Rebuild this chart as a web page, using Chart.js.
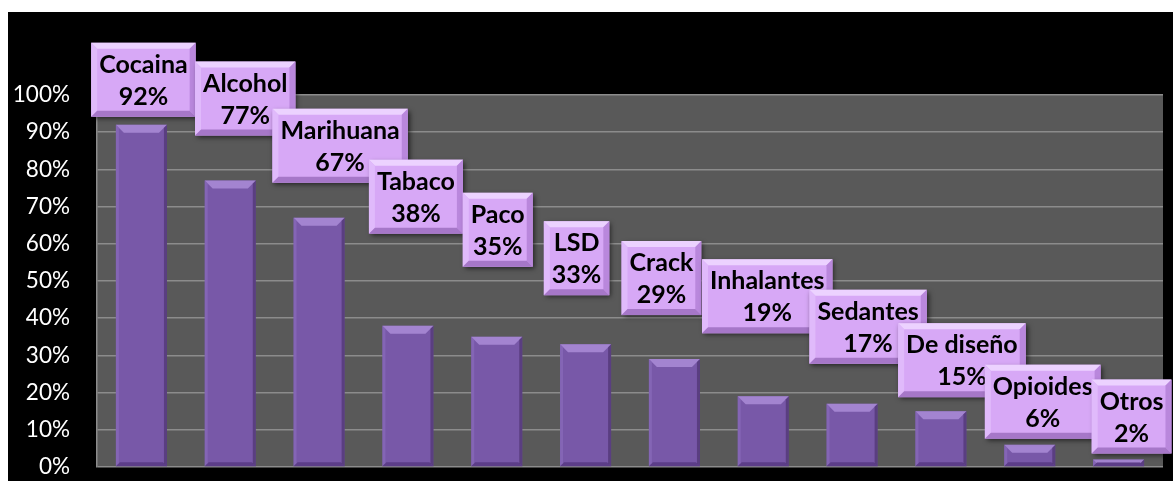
<!DOCTYPE html>
<html>
<head>
<meta charset="utf-8">
<script src="https://cdn.jsdelivr.net/npm/chart.js@4.4.1/dist/chart.umd.min.js"></script>
<style>
  body { margin: 0; background: #ffffff; }
  #wrap { position: absolute; left: 8px; top: 12px; width: 1165px; height: 469px; background: #000000; }
</style>
</head>
<body>
<div id="wrap"><canvas id="myChart" width="1165" height="469"></canvas></div>
<script>
// DATOS
const categorias = ["Cocaina", "Alcohol", "Marihuana", "Tabaco", "Paco", "LSD", "Crack", "Inhalantes", "Sedantes", "De diseño", "Opioides", "Otros"];
const porcentajes = [92, 77, 67, 38, 35, 33, 29, 19, 17, 15, 6, 2];
const ticksY = [0, 10, 20, 30, 40, 50, 60, 70, 80, 90, 100];

// posicion de cada etiqueta (centro de la caja) respecto a la parte de arriba de su barra, en px
const desplazamientos = [[2, -45], [15, -82], [21, -72], [8, -129], [1, -107], [-9, -86], [-13, -81], [4, -100], [16, -77], [21, -51], [13, -43], [13, -43]];

const FUENTE = "Lato, 'DejaVu Sans', sans-serif";

// fondo gris del area del grafico
const fondoPlugin = {
  id: "fondo",
  beforeDraw(chart) {
    const { ctx, chartArea } = chart;
    ctx.save();
    ctx.fillStyle = "#595959";
    ctx.fillRect(chartArea.left, chartArea.top, chartArea.right - chartArea.left, chartArea.bottom - chartArea.top);
    ctx.restore();
  },
};

function trapecio(ctx, pts, color) {
  ctx.beginPath();
  ctx.moveTo(pts[0][0], pts[0][1]);
  for (let i = 1; i < pts.length; i++) ctx.lineTo(pts[i][0], pts[i][1]);
  ctx.closePath();
  ctx.fillStyle = color;
  ctx.fill();
}

// biselado de las barras
const biselPlugin = {
  id: "bisel",
  afterDatasetsDraw(chart) {
    const ctx = chart.ctx;
    chart.getDatasetMeta(0).data.forEach((bar) => {
      const l = bar.x - bar.width / 2;
      const r = bar.x + bar.width / 2;
      const t = bar.y;
      const b = bar.base;
      const s = Math.min(8, (b - t) / 2);
      ctx.save();
      trapecio(ctx, [[l, t], [r, t], [r - s, t + s], [l + s, t + s]], "rgba(170,140,215,0.85)");
      trapecio(ctx, [[l, t], [l + 3, t + 3], [l + 3, b - 3], [l, b]], "rgba(140,110,190,0.6)");
      trapecio(ctx, [[r, t], [r - 3, t + 3], [r - 3, b - 3], [r, b]], "rgba(60,35,90,0.5)");
      trapecio(ctx, [[l, b], [l + 4, b - 4], [r - 4, b - 4], [r, b]], "rgba(70,40,110,0.55)");
      ctx.restore();
    });
  },
};

// cajas con nombre y porcentaje
const etiquetasPlugin = {
  id: "etiquetas",
  afterDraw(chart) {
    const ctx = chart.ctx;
    const meta = chart.getDatasetMeta(0);
    ctx.save();
    ctx.font = "bold 25px " + FUENTE;
    meta.data.forEach((bar, i) => {
      const texto1 = categorias[i];
      const texto2 = porcentajes[i] + "%";
      const w = Math.max(ctx.measureText(texto1).width, ctx.measureText(texto2).width) + 16;
      const h = 74;
      const cx = bar.x + desplazamientos[i][0];
      const cy = bar.y + desplazamientos[i][1];
      const l = cx - w / 2, t = cy - h / 2, r = l + w, b = t + h;
      const s = 6;

      ctx.save();
      ctx.shadowColor = "rgba(0,0,0,0.6)";
      ctx.shadowBlur = 5;
      ctx.shadowOffsetX = 2;
      ctx.shadowOffsetY = 2;
      ctx.fillStyle = "#d7a8f6";
      ctx.fillRect(l, t, w, h);
      ctx.restore();

      trapecio(ctx, [[l, t], [r, t], [r - s, t + s], [l + s, t + s]], "#ecd2ff");
      trapecio(ctx, [[l, t], [l + s, t + s], [l + s, b - s], [l, b]], "#e0bafb");
      trapecio(ctx, [[r, t], [r - s, t + s], [r - s, b - s], [r, b]], "#b987dc");
      trapecio(ctx, [[l, b], [l + s, b - s], [r - s, b - s], [r, b]], "#a677c8");

      ctx.fillStyle = "#000000";
      ctx.textAlign = "center";
      ctx.textBaseline = "middle";
      ctx.fillText(texto1, cx, cy - 15);
      ctx.fillText(texto2, cx, cy + 17);
    });
    ctx.restore();
  },
};

function renderChart() {
  const ctx = document.getElementById("myChart").getContext("2d");

  new Chart(ctx, {
    type: "bar",
    data: {
      labels: categorias,
      datasets: [
        {
          data: porcentajes,
          backgroundColor: "#7858a8",
          borderWidth: 0,
          barPercentage: 0.575,
          categoryPercentage: 1,
        },
      ],
    },
    options: {
      responsive: false,
      animation: false,
      devicePixelRatio: 1,
      layout: { padding: { top: 83, right: 10, bottom: 14, left: 0 } },
      plugins: {
        legend: { display: false },
        tooltip: { enabled: false },
      },
      scales: {
        x: { display: false },
        y: {
          min: 0,
          max: 100,
          afterFit: (scale) => {
            scale.width = 89;
            scale.paddingTop = 0;
            scale.paddingBottom = 0;
          },
          afterBuildTicks: (scale) => { scale.ticks = ticksY.map((v) => ({ value: v })); },
          ticks: {
            color: "#ffffff",
            padding: 27,
            font: { family: FUENTE, size: 22.5 },
            callback: (v) => v + "%",
          },
          grid: { color: "#8c8c8c", lineWidth: 1.5, drawTicks: false },
          border: { display: true, color: "#8c8c8c", width: 1.5 },
        },
      },
    },
    plugins: [fondoPlugin, biselPlugin, etiquetasPlugin],
  });
}

renderChart();
</script>
</body>
</html>
